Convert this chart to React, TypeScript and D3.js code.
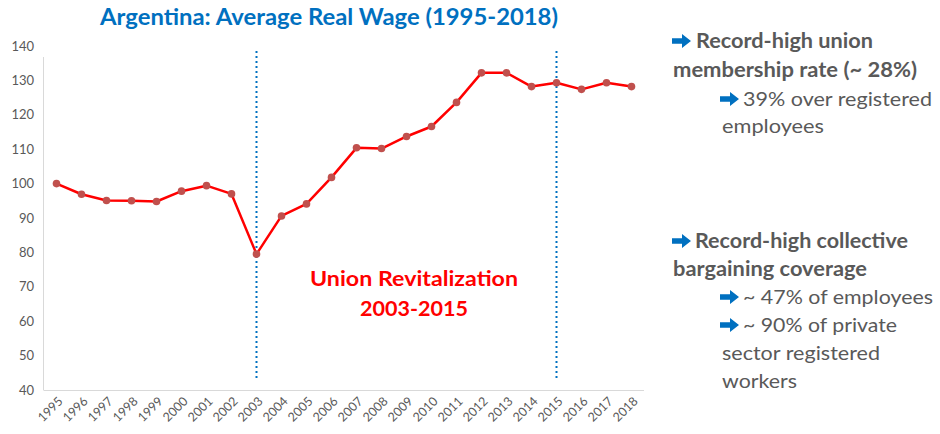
import React from "react";
import * as d3 from "d3";

const years = [
  "1995","1996","1997","1998","1999","2000","2001","2002","2003","2004","2005","2006",
  "2007","2008","2009","2010","2011","2012","2013","2014","2015","2016","2017","2018",
];
const wage = [
  100, 96.9, 95.1, 95.0, 94.8, 97.8, 99.4, 97.0, 79.5, 90.6, 94.1, 101.8,
  110.4, 110.2, 113.7, 116.6, 123.6, 132.2, 132.2, 128.2, 129.3, 127.4, 129.3, 128.2,
];
const yTicks = [40, 50, 60, 70, 80, 90, 100, 110, 120, 130, 140];
const markerYears = ["2003", "2015"];

const titleText = "Argentina: Average Real Wage (1995-2018)";
const annotationLines = ["Union Revitalization", "2003-2015"];

type Line = { text: string; bold: boolean; arrow: boolean; x: number; y: number; len: number };
const sideLines: Line[] = [
  { text: "Record-high union", bold: true, arrow: true, x: 696, y: 48, len: 177 },
  { text: "membership rate (~ 28%)", bold: true, arrow: false, x: 673, y: 77, len: 244 },
  { text: "39% over registered", bold: false, arrow: true, x: 743, y: 106, len: 189 },
  { text: "employees", bold: false, arrow: false, x: 722, y: 133, len: 102 },
  { text: "Record-high collective", bold: true, arrow: true, x: 695, y: 248, len: 213 },
  { text: "bargaining coverage", bold: true, arrow: false, x: 673, y: 276, len: 194 },
  { text: "~ 47% of employees", bold: false, arrow: true, x: 743, y: 304, len: 190 },
  { text: "~ 90% of private", bold: false, arrow: true, x: 743, y: 332, len: 154 },
  { text: "sector registered", bold: false, arrow: false, x: 722, y: 360, len: 158 },
  { text: "workers", bold: false, arrow: false, x: 722, y: 388, len: 75 },
];

const FONT = "Lato, 'Open Sans', sans-serif";

export default function App() {
  const x = d3.scaleBand<string>().domain(years).range([44, 644]).padding(0);
  const y = d3.scaleLinear().domain([40, 140]).range([390, 46]);
  const cx = (d: string) => (x(d) as number) + x.bandwidth() / 2;

  const line = d3
    .line<number>()
    .x((_, i) => cx(years[i]))
    .y((d) => y(d));

  const arrowPath = (ax: number, ay: number) => {
    const p = d3.path();
    p.moveTo(ax, ay - 2.8);
    p.lineTo(ax + 10, ay - 2.8);
    p.lineTo(ax + 10, ay - 7);
    p.lineTo(ax + 19, ay);
    p.lineTo(ax + 10, ay + 7);
    p.lineTo(ax + 10, ay + 2.8);
    p.lineTo(ax, ay + 2.8);
    p.closePath();
    return p.toString();
  };

  return (
    <svg
      width={940}
      height={434}
      style={{ position: "absolute", left: 0, top: 0, background: "#fff" }}
      fontFamily={FONT}
    >
      <text
        x={329}
        y={25}
        textAnchor="middle"
        fontSize={23.5}
        fontWeight="bold"
        fill="#0070C0"
        textLength={458}
        lengthAdjust="spacingAndGlyphs"
      >
        {titleText}
      </text>

      <line x1={43.5} x2={43.5} y1={57} y2={y(40)} stroke="#D9D9D9" strokeWidth={1} />
      <line x1={43.5} x2={644} y1={y(40) + 0.5} y2={y(40) + 0.5} stroke="#D9D9D9" strokeWidth={1} />

      {yTicks.map((t) => (
        <text key={t} x={34} y={y(t)} dy="0.35em" textAnchor="end" fontSize={13} fill="#595959">
          {t}
        </text>
      ))}

      {years.map((yr) => (
        <text
          key={yr}
          transform={`translate(${cx(yr) + 4},${399}) rotate(-45)`}
          textAnchor="end"
          dy="0.35em"
          fontSize={12.5}
          fill="#595959"
        >
          {yr}
        </text>
      ))}

      {markerYears.map((yr) => (
        <line
          key={yr}
          x1={cx(yr)}
          x2={cx(yr)}
          y1={51}
          y2={381}
          stroke="#0070C0"
          strokeWidth={2}
          strokeDasharray="2,3"
        />
      ))}

      <path d={line(wage) || ""} fill="none" stroke="#FF0000" strokeWidth={2.5} strokeLinejoin="round" />
      {wage.map((v, i) => (
        <circle key={i} cx={cx(years[i])} cy={y(v)} r={3.8} fill="#C0504D" />
      ))}

      <text x={414} y={286} textAnchor="middle" fontSize={21.5} fontWeight="bold" fill="#FF0000" textLength={208} lengthAdjust="spacingAndGlyphs">
        {annotationLines[0]}
      </text>
      <text x={414} y={316} textAnchor="middle" fontSize={21.5} fontWeight="bold" fill="#FF0000" textLength={108} lengthAdjust="spacingAndGlyphs">
        {annotationLines[1]}
      </text>

      {sideLines.map((l, i) => (
        <g key={i}>
          {l.arrow && <path d={arrowPath(l.bold ? 672 : 720, l.y - 7)} fill="#0070C0" />}
          <text
            x={l.x}
            y={l.y}
            fontSize={20}
            fontWeight={l.bold ? "bold" : "normal"}
            fill="#595959"
            textLength={l.len}
            lengthAdjust="spacingAndGlyphs"
          >
            {l.text}
          </text>
        </g>
      ))}
    </svg>
  );
}
